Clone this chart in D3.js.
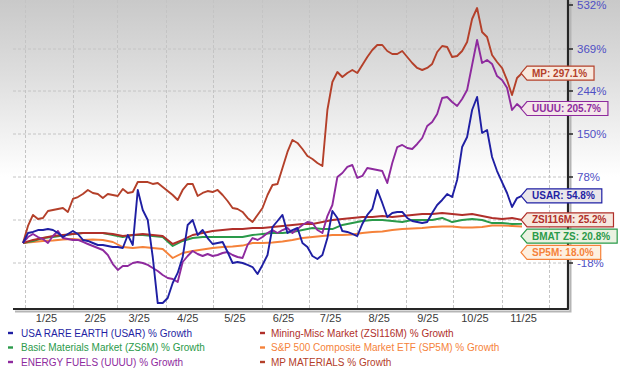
<!DOCTYPE html>
<html><head><meta charset="utf-8">
<script src="https://cdn.jsdelivr.net/npm/d3@7"></script>
<style>
html,body{margin:0;padding:0;background:#fff}
svg{display:block;font-family:"Liberation Sans",Arial,Helvetica,sans-serif}
</style>
</head><body>
<svg id="chart" width="620" height="376"></svg>
<script>
// ---------- data ----------
const startDate = "2024-12-31";
const endDate = "2025-11-14";
const monthGridDates = ["2025-01-01","2025-02-01","2025-03-01","2025-04-01","2025-05-01","2025-06-01","2025-07-01","2025-08-01","2025-09-01","2025-10-01","2025-11-01","2025-12-01"];
const xLabelDates = ["2025-01-15","2025-02-15","2025-03-15","2025-04-15","2025-05-15","2025-06-15","2025-07-15","2025-08-15","2025-09-15","2025-10-15","2025-11-15"];
const xLabels = ["1/25","2/25","3/25","4/25","5/25","6/25","7/25","8/25","9/25","10/25","11/25"];
const yTickValues = [532,369,244,150,78,-18];
const yGridValues = [369,244,150,78,25,-18];

// % growth, evenly spaced in time from startDate to endDate
const usar = [0,10.9,12.0,14.1,14.1,15.2,14.1,10.9,6.5,9.8,13.0,9.8,3.3,2.2,0,-1.8,-1.8,-2.7,-3.6,-3.6,-4.5,8.7,-1.8,62.0,37.3,25.0,-12.6,-45.0,-45.0,-41.6,-31.5,-24.7,-12.6,19.6,25.0,8.7,14.1,5.4,-0.9,0,1.1,-8.1,-18.0,-17.1,-18.0,-19.3,-20.7,-25.4,-19.3,-10.8,17.4,23.9,31.2,10.9,14.1,16.3,0,-3.6,-11.7,-14.4,-10.8,5.4,36.1,27.5,13.0,12.0,9.8,7.6,20.7,31.2,38.6,62.0,46.0,28.7,33.6,34.9,34.9,27.5,23.9,22.8,21.7,22.8,33.6,43.5,49.7,57.0,53.3,74.3,128.2,145.0,202.5,230.9,152.2,158.7,111.5,88.0,71.8,58.3,41.0,52.1,54.8];
const uuuu = [0,6.5,9.8,6.5,4.3,0,7.6,13.0,5.4,4.3,3.3,3.3,1.1,-0.9,-2.7,-4.5,-6.3,-10.8,-18.7,-22.7,-20.0,-20.0,-18.0,-17.1,-18.0,-19.3,-21.4,-23.4,-26.1,-28.1,-28.8,-30.8,-17.1,-11.7,-7.2,-9.9,-11.7,-9.9,-11.7,-10.8,-9.0,-8.1,-10.8,-12.6,-13.5,-1.8,5.4,3.3,6.5,10.9,14.1,10.9,14.1,16.3,10.9,15.2,19.6,22.8,21.7,14.1,10.9,29.9,43.5,78.0,84.7,94.8,98.1,76.8,79.7,93.1,91.4,89.7,88.0,70.6,101.5,128.2,131.6,126.6,124.9,133.3,143.3,167.5,176.2,193.7,228.7,230.9,220.0,211.2,226.5,247.0,321.4,402.3,327.3,336.3,324.4,288.6,276.7,253.9,202.5,215.6,205.7];
const mp = [0,18.5,31.2,26.2,27.4,36.1,37.3,38.6,39.8,34.9,50.9,53.3,57.0,62.0,58.3,57.0,52.1,57.0,55.8,54.6,63.2,58.3,59.5,71.8,71.8,71.8,69.4,70.6,65.7,60.7,55.8,49.7,62.0,69.4,69.4,54.6,58.3,60.7,59.5,62.0,55.8,48.4,39.8,38.6,34.9,27.5,22.8,31.2,39.8,55.8,68.1,69.4,93.1,119.9,140.0,135.0,124.9,113.2,108.2,101.5,96.4,202.5,270.8,300.6,285.7,297.6,306.5,297.6,321.4,345.2,366.0,383.8,383.8,363.0,354.1,354.1,363.0,345.2,327.3,312.5,306.5,312.5,324.4,360.1,380.1,376.4,345.2,348.2,363.0,394.9,480.1,520.9,432.0,413.4,351.1,330.3,312.5,276.7,235.3,282.7,297.1];
const zsi116m = [0,3.3,5.4,7.6,8.7,9.8,10.9,10.9,10.9,9.8,7.6,8.7,9.8,8.7,7.6,-0.9,3.3,8.7,10.9,13.0,14.1,15.2,15.2,16.3,16.3,17.4,18.5,19.6,20.7,20.7,22.8,25.0,26.2,27.5,28.7,28.7,29.9,28.7,29.9,31.2,32.4,32.4,33.6,32.4,31.2,32.4,29.9,27.5,26.2,27.5,25.2];
const zs6m = [0,2.2,5.4,6.5,8.2,9.8,10.9,10.9,10.9,8.7,6.5,8.7,8.7,7.6,6.5,-2.7,2.2,5.4,6.5,6.5,6.5,6.5,6.5,8.7,9.8,10.9,10.9,12.0,14.1,16.3,15.2,15.2,19.6,21.7,23.9,25.0,25.0,23.9,22.8,25.0,25.0,25.0,27.5,22.8,25.0,26.2,25.0,21.7,21.7,20.7,20.8];
const sp5m = [0,1.1,2.2,2.7,3.8,4.3,3.3,3.8,3.3,1.1,-3.6,-4.5,-3.6,-4.5,-5.4,-13.5,-9.0,-7.2,-5.9,-4.5,-3.6,-3.2,-2.3,0,0,0.5,1.6,3.3,5.4,6.5,7.6,8.7,8.7,9.2,10.9,12.0,12.5,14.1,15.2,15.8,16.3,17.4,17.9,17.9,16.8,16.8,17.4,19.0,19.0,18.5,18.0];

const seriesNames = ["USA RARE EARTH (USAR) % Growth","Mining-Misc Market (ZSI116M) % Growth","Basic Materials Market (ZS6M) % Growth","S&P 500 Composite Market ETF (SP5M) % Growth","ENERGY FUELS (UUUU) % Growth","MP MATERIALS % Growth"];
const endTags = ["USAR","ZSI116M","BMAT ZS","SP5M","UUUU","MP"];
const seriesColors = ["#1f1fa3","#b02f2a","#2a9a4a","#f5823a","#8e2a9e","#b4402a"];
const seriesValues = [usar, zsi116m, zs6m, sp5m, uuuu, mp];

// ---------- setup ----------
const parse = d3.timeParse("%Y-%m-%d");
const svg = d3.select("#chart");
const W = 620, H = 376;
const plotLeft = 13, plotRight = 568, plotBottom = 309;

const x = d3.scaleTime().domain([parse(startDate), parse(endDate)]).range([23, 522]);
const y = d3.scaleLinear()
  .domain([-47,-18,0,25,78,150,244,369,532])
  .range([306,263,243,220,177,134,91,49,5]);

// background gradient
const defs = svg.append("defs");
const grad = defs.append("linearGradient").attr("id","bg").attr("x1",0).attr("y1",0).attr("x2",0).attr("y2",1);
grad.append("stop").attr("offset","0").attr("stop-color","#c9c9c9");
grad.append("stop").attr("offset","0.2").attr("stop-color","#dedede");
grad.append("stop").attr("offset","0.47").attr("stop-color","#ffffff");
grad.append("stop").attr("offset","1").attr("stop-color","#ffffff");
svg.append("rect").attr("width",W).attr("height",H).attr("fill","url(#bg)");

// gridlines
const grid = svg.append("g");
grid.selectAll("line.h").data(yGridValues).join("line")
  .attr("x1",plotLeft).attr("x2",plotRight)
  .attr("y1",d=>y(d)).attr("y2",d=>y(d))
  .attr("stroke","#c4c4c4").attr("stroke-width",1).attr("stroke-dasharray","3,2");
grid.selectAll("line.v").data(monthGridDates.map(parse)).join("line")
  .attr("x1",d=>Math.round(x(d))+0.5).attr("x2",d=>Math.round(x(d))+0.5)
  .attr("y1",0).attr("y2",plotBottom)
  .attr("stroke","#c4c4c4").attr("stroke-width",1).attr("stroke-dasharray","3,2");

// axes frame (bottom + right) with soft shadow
svg.append("path").attr("d",`M${plotLeft+2},${plotBottom+2.5}H${plotRight+2.5}V2`)
  .attr("fill","none").attr("stroke","#b5b5b5").attr("stroke-width",2);
svg.append("path").attr("d",`M${plotLeft},${plotBottom}H${plotRight}V0`)
  .attr("fill","none").attr("stroke","#262626").attr("stroke-width",2.2).attr("stroke-linejoin","round");

// right axis ticks & labels
const yAxisG = svg.append("g");
yAxisG.selectAll("line").data(yTickValues).join("line")
  .attr("x1",plotRight).attr("x2",plotRight+5)
  .attr("y1",d=>y(d)).attr("y2",d=>y(d))
  .attr("stroke","#262626").attr("stroke-width",1.5);
yAxisG.selectAll("text").data(yTickValues).join("text")
  .attr("x",plotRight+9).attr("y",d=>y(d)).attr("dy","0.36em")
  .attr("font-size",11.5).attr("fill","#4f4fc4")
  .text(d=>d+"%");

// x labels
svg.append("g").selectAll("text").data(xLabelDates.map(parse)).join("text")
  .attr("x",d=>x(d)).attr("y",322).attr("text-anchor","middle")
  .attr("font-size",11).attr("fill","#3a3a3a")
  .text((d,i)=>xLabels[i]);

// lines
const drawOrder = [3,2,1,5,4,0];
const lineGen = d3.line().x(d=>x(d.date)).y(d=>y(d.value));
const t0 = parse(startDate).getTime(), t1 = parse(endDate).getTime();
function toPoints(vals){
  const n = vals.length;
  return vals.map((v,i)=>({date:new Date(t0 + (t1-t0)*i/(n-1)), value:v}));
}
const linesG = svg.append("g");
drawOrder.forEach(k=>{
  linesG.append("path").datum(toPoints(seriesValues[k]))
    .attr("d",lineGen).attr("fill","none")
    .attr("stroke",seriesColors[k]).attr("stroke-width",1.9)
    .attr("stroke-linejoin","round");
});

// end callouts
const callouts = seriesValues.map((vals,k)=>({k, value: vals[vals.length-1], yd: y(vals[vals.length-1])}))
  .sort((a,b)=>a.yd-b.yd);
for (let i=1;i<callouts.length;i++){
  if (callouts[i].yd < callouts[i-1].yd + 16.3) callouts[i].yd = callouts[i-1].yd + 16.3;
}
const tipX = 521, boxX = 527, hh = 7;
const cg = svg.append("g");
callouts.forEach(c=>{
  const col = seriesColors[c.k];
  const g = cg.append("g");
  const path = g.append("path");
  const t = g.append("text").attr("x",532).attr("y",c.yd).attr("dy","0.36em")
    .attr("font-size",10).attr("font-weight","bold").attr("fill",col)
    .text(endTags[c.k]+": "+c.value.toFixed(1)+"%");
  const right = 532 + t.node().getComputedTextLength() + 7;
  path.attr("d",`M${tipX},${c.yd}L${boxX},${c.yd-hh}H${right}V${c.yd+hh}H${boxX}Z`)
    .attr("fill",d3.interpolateRgb(col,"#fffcf2")(0.9))
    .attr("stroke",col).attr("stroke-width",1.2);
});

// legend
const legendPos = [[0,0],[1,0],[0,1],[1,1],[0,2],[1,2]];
const colX = [8, 260], textX = [21, 271], rowY = [336.5, 351, 365.5];
const lg = svg.append("g");
seriesNames.forEach((name,k)=>{
  const [c,r] = legendPos[k];
  lg.append("line").attr("x1",colX[c]).attr("x2",colX[c]+5)
    .attr("y1",rowY[r]-3.5).attr("y2",rowY[r]-3.5)
    .attr("stroke",seriesColors[k]).attr("stroke-width",2.4);
  lg.append("text").attr("x",textX[c]).attr("y",rowY[r])
    .attr("font-size",10).attr("fill",seriesColors[k]).text(name);
});
</script>
</body></html>
